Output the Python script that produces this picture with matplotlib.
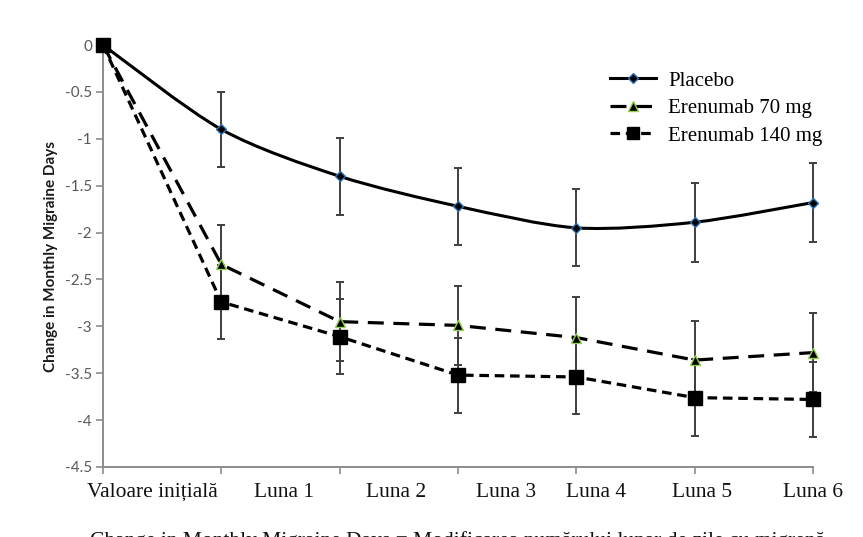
import numpy as np
import matplotlib
matplotlib.use("Agg")
import matplotlib.pyplot as plt
from matplotlib.path import Path
from matplotlib.patches import PathPatch
from matplotlib.lines import Line2D
from matplotlib.transforms import ScaledTranslation

# data
categories = ["Valoare inițială", "Luna 1", "Luna 2", "Luna 3", "Luna 4", "Luna 5", "Luna 6"]
placebo = [0, -0.90, -1.40, -1.72, -1.95, -1.89, -1.68]
placebo_err = [0, 0.40, 0.41, 0.41, 0.41, 0.42, 0.42]
eren70 = [0, -2.34, -2.95, -2.99, -3.12, -3.36, -3.28]
eren70_err = [0, 0.42, 0.42, 0.42, 0.43, 0.42, 0.42]
eren140 = [0, -2.74, -3.11, -3.52, -3.54, -3.76, -3.78]
eren140_err = [0, 0.39, 0.40, 0.40, 0.40, 0.41, 0.40]
y_ticks = [0, -0.5, -1, -1.5, -2, -2.5, -3, -3.5, -4, -4.5]

# where the (shifted) category labels sit in the original picture
label_pos = [0.42, 1.53, 2.48, 3.41, 4.17, 5.06, 6.0]

W, H = 863, 537
fig = plt.figure(figsize=(W / 100, H / 100), dpi=100)
ax = fig.add_axes([103 / W, (H - 467) / H, (813 - 103) / W, (467 - 45) / H])

x = np.arange(len(categories))
err_col = "#3f3f3f"


def smooth_path(xs, ys):
    # excel style smoothed line (catmull-rom -> bezier)
    pts = np.column_stack([xs, ys]).astype(float)
    n = len(pts)
    verts = [pts[0]]
    codes = [Path.MOVETO]
    for i in range(n - 1):
        p0 = pts[i - 1] if i > 0 else pts[i]
        p1 = pts[i]
        p2 = pts[i + 1]
        p3 = pts[i + 2] if i + 2 < n else pts[i + 1]
        c1 = p1 + (p2 - p0) / 7
        c2 = p2 - (p3 - p1) / 7
        verts += [c1, c2, p2]
        codes += [Path.CURVE4] * 3
    return Path(verts, codes)


# error bars
for vals, errs in [(placebo, placebo_err), (eren70, eren70_err), (eren140, eren140_err)]:
    ax.errorbar(x[1:], vals[1:], yerr=errs[1:], fmt="none", ecolor=err_col,
                elinewidth=1.4, capsize=2.8, capthick=1.4, zorder=2, clip_on=False)

# placebo smooth line
ax.add_patch(PathPatch(smooth_path(x, placebo), fill=False, edgecolor="black",
                       lw=2.2, zorder=3, clip_on=False))
ax.plot(x, placebo, ls="none", marker="D", ms=5, mfc="black", mec="#2e75b6",
        mew=1.0, zorder=5, clip_on=False)

ax.plot(x, eren70, color="black", lw=2.3, dashes=(5, 3), marker="^", ms=7,
        mfc="black", mec="#92d050", mew=1.0, zorder=4, clip_on=False)
ax.plot(x, eren140, color="black", lw=2.3, dashes=(3, 1.8), marker="s", ms=10,
        mfc="black", mec="black", zorder=6, clip_on=False)

ax.set_xlim(0, 6)
ax.set_ylim(-4.5, 0)

ax.set_yticks(y_ticks)
ax.set_yticklabels([f"{v:g}" for v in y_ticks], fontfamily="Lato", fontsize=11,
                   color="#595959")
ax.set_xticks(x)
ax.set_xticklabels([])
shift = ScaledTranslation(0, -16 / 100, fig.dpi_scale_trans)
for pos, lab in zip(label_pos, categories):
    ax.text(pos, -4.5, lab, transform=ax.transData + shift, ha="center", va="top",
            fontfamily="Liberation Serif", fontsize=15.5, color="#111111")

for s in ["top", "right"]:
    ax.spines[s].set_visible(False)
for s in ["left", "bottom"]:
    ax.spines[s].set_color("#8c8c8c")
    ax.spines[s].set_linewidth(1.4)
ax.tick_params(axis="both", direction="out", length=5, width=1.2, color="#8c8c8c", pad=3)

ax.set_ylabel("Change in Monthly Migraine Days", fontfamily="Lato", fontsize=11,
              fontweight="bold", color="#1a1a1a", labelpad=5)

# legend
handles = [
    Line2D([], [], color="black", lw=2.2, marker="D", ms=5, mfc="black", mec="#2e75b6"),
    Line2D([], [], color="black", lw=2.3, dashes=(5, 3), marker="^", ms=7, mfc="black", mec="#92d050"),
    Line2D([], [], color="black", lw=2.3, dashes=(3, 1.8), marker="s", ms=9, mfc="black", mec="black"),
]
leg = fig.legend(handles, ["Placebo", "Erenumab 70 mg", "Erenumab 140 mg"],
                 loc="upper left", bbox_to_anchor=(610 / W, 1 - 71 / H),
                 frameon=False, prop={"family": "Liberation Serif", "size": 15},
                 handlelength=2.2, handletextpad=0.6, labelspacing=0.38,
                 borderpad=0, borderaxespad=0)

# caption cut off at the bottom of the picture
fig.text(90 / W, 1 - 531 / H, "Change in Monthly Migraine Days = Modificarea numărului lunar de zile cu migrenă",
         ha="left", va="top", fontfamily="Liberation Serif", fontsize=15.5, color="#111111")

fig.savefig("out.png", dpi=100)
